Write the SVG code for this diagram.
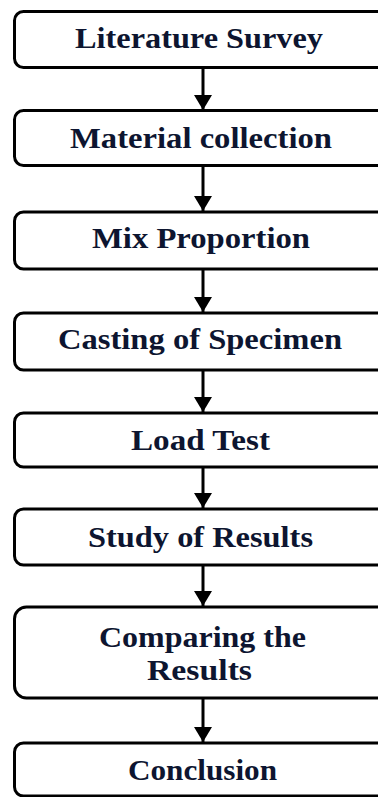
<svg xmlns="http://www.w3.org/2000/svg" width="378" height="797" viewBox="0 0 378 797">
<style>
.box{fill:#fff;stroke:#000;stroke-width:3}
.lbl{font-weight:bold;font-size:30px;fill:#0d1530;text-anchor:middle}
.conn{stroke:#000;stroke-width:3;fill:none}
</style>
<defs>
<marker id="ah" markerWidth="5" markerHeight="6" refX="5" refY="3" orient="auto" markerUnits="strokeWidth">
<path d="M0,0 L5,3 L0,6 Z" fill="#000"/>
</marker>
</defs>
<rect width="378" height="797" fill="#fff"/>
<g id="connectors">
<line class="conn" x1="203" y1="68" x2="203" y2="110" marker-end="url(#ah)"/>
<line class="conn" x1="203" y1="166" x2="203" y2="211" marker-end="url(#ah)"/>
<line class="conn" x1="203" y1="269" x2="203" y2="312" marker-end="url(#ah)"/>
<line class="conn" x1="203" y1="371" x2="203" y2="412" marker-end="url(#ah)"/>
<line class="conn" x1="203" y1="468" x2="203" y2="508" marker-end="url(#ah)"/>
<line class="conn" x1="203" y1="566" x2="203" y2="606" marker-end="url(#ah)"/>
<line class="conn" x1="203" y1="699" x2="203" y2="742" marker-end="url(#ah)"/>
</g>
<g id="n1"><rect class="box" x="14.5" y="11.5" width="390" height="56" rx="9"/><text class="lbl" font-family="Times New Roman" x="199" y="48" textLength="248" lengthAdjust="spacingAndGlyphs">Literature Survey</text></g>
<g id="n2"><rect class="box" x="14.5" y="110.5" width="390" height="55" rx="9"/><text class="lbl" font-family="Times New Roman" x="201" y="148" textLength="262" lengthAdjust="spacingAndGlyphs">Material collection</text></g>
<g id="n3"><rect class="box" x="14.5" y="212" width="390" height="57" rx="9"/><text class="lbl" font-family="Times New Roman" x="201" y="248" textLength="218" lengthAdjust="spacingAndGlyphs">Mix Proportion</text></g>
<g id="n4"><rect class="box" x="14.5" y="313" width="390" height="57" rx="9"/><text class="lbl" font-family="Times New Roman" x="200" y="349" textLength="284" lengthAdjust="spacingAndGlyphs">Casting of Specimen</text></g>
<g id="n5"><rect class="box" x="14.5" y="413" width="390" height="54" rx="9"/><text class="lbl" font-family="Times New Roman" x="200.5" y="450" textLength="139" lengthAdjust="spacingAndGlyphs">Load Test</text></g>
<g id="n6"><rect class="box" x="14.5" y="509" width="390" height="56" rx="9"/><text class="lbl" font-family="Times New Roman" x="200.5" y="547" textLength="225" lengthAdjust="spacingAndGlyphs">Study of Results</text></g>
<g id="n7"><rect class="box" x="14.5" y="607" width="390" height="91" rx="12"/><text class="lbl" font-family="Times New Roman" x="202.5" y="647" textLength="207" lengthAdjust="spacingAndGlyphs">Comparing the</text><text class="lbl" font-family="Times New Roman" x="199.5" y="680" textLength="105" lengthAdjust="spacingAndGlyphs">Results</text></g>
<g id="n8"><rect class="box" x="14.5" y="743" width="390" height="53" rx="9"/><text class="lbl" font-family="Times New Roman" x="202.5" y="780" textLength="149" lengthAdjust="spacingAndGlyphs">Conclusion</text></g>
</svg>
